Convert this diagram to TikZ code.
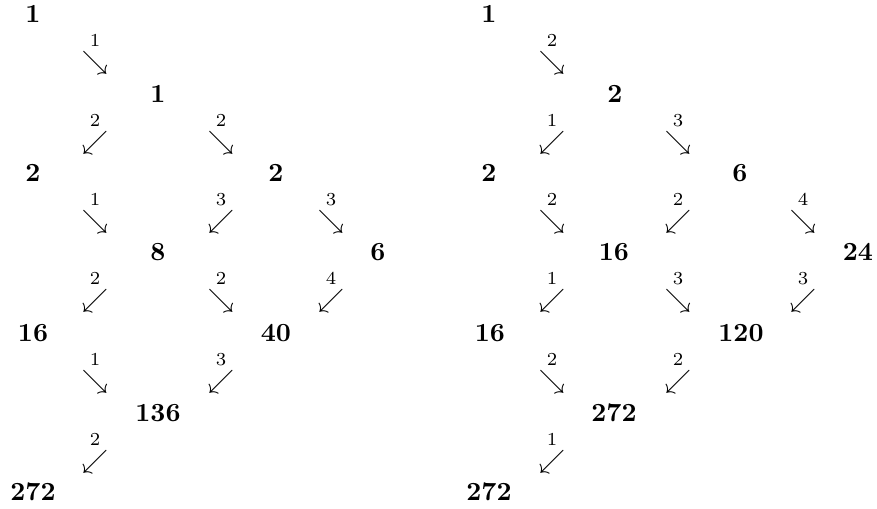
\documentclass[tikz,border=0pt]{standalone}
\tikzset{
  num/.style={font=\bfseries, inner sep=0pt},
  arrw/.style={inner sep=0pt, anchor=base}
}
\newcommand\SE[4]{\node[arrw] (#1) at (#2,#3+6.5) {$\stackrel{#4}{\searrow}$};}
\newcommand\SW[4]{\node[arrw] (#1) at (#2,#3+6.5) {$\stackrel{#4}{\swarrow}$};}
\begin{document}
\begin{tikzpicture}[x=0.382pt,y=-0.382pt]
\useasboundingbox (0,0) rectangle (877,509);
% ---------- left diagram ----------
\node[num] (a0) at (33,14) {1};
\SE{la1}{95}{63}{1}
\node[num] (a1) at (158,94) {1};
\SW{la2}{95}{143}{2}
\SE{la3}{221}{143}{2}
\node[num] (a2) at (33,173) {2};
\node[num] (a3) at (276,173) {2};
\SE{la4}{95}{222}{1}
\SW{la5}{221}{222}{3}
\SE{la6}{331}{222}{3}
\node[num] (a4) at (158,252) {8};
\node[num] (a5) at (378,252) {6};
\SW{la7}{95}{301}{2}
\SE{la8}{221}{301}{2}
\SW{la9}{331}{301}{4}
\node[num] (a6) at (33,333) {16};
\node[num] (a7) at (276,333) {40};
\SE{la10}{95}{382}{1}
\SW{la11}{221}{382}{3}
\node[num] (a8) at (158,413) {136};
\SW{la12}{95}{462}{2}
\node[num] (a9) at (33,492) {272};
% ---------- right diagram ----------
\node[num] (b0) at (489,14) {1};
\SE{lb1}{552}{63}{2}
\node[num] (b1) at (615,94) {2};
\SW{lb2}{552}{143}{1}
\SE{lb3}{678}{143}{3}
\node[num] (b2) at (489,173) {2};
\node[num] (b3) at (740,173) {6};
\SE{lb4}{552}{222}{2}
\SW{lb5}{678}{222}{2}
\SE{lb6}{803}{222}{4}
\node[num] (b4) at (614,252) {16};
\node[num] (b5) at (858,252) {24};
\SW{lb7}{552}{301}{1}
\SE{lb8}{678}{301}{3}
\SW{lb9}{803}{301}{3}
\node[num] (b6) at (490,333) {16};
\node[num] (b7) at (741,333) {120};
\SE{lb10}{552}{382}{2}
\SW{lb11}{678}{382}{2}
\node[num] (b8) at (614,413) {272};
\SW{lb12}{552}{462}{1}
\node[num] (b9) at (489,492) {272};
\end{tikzpicture}
\end{document}
